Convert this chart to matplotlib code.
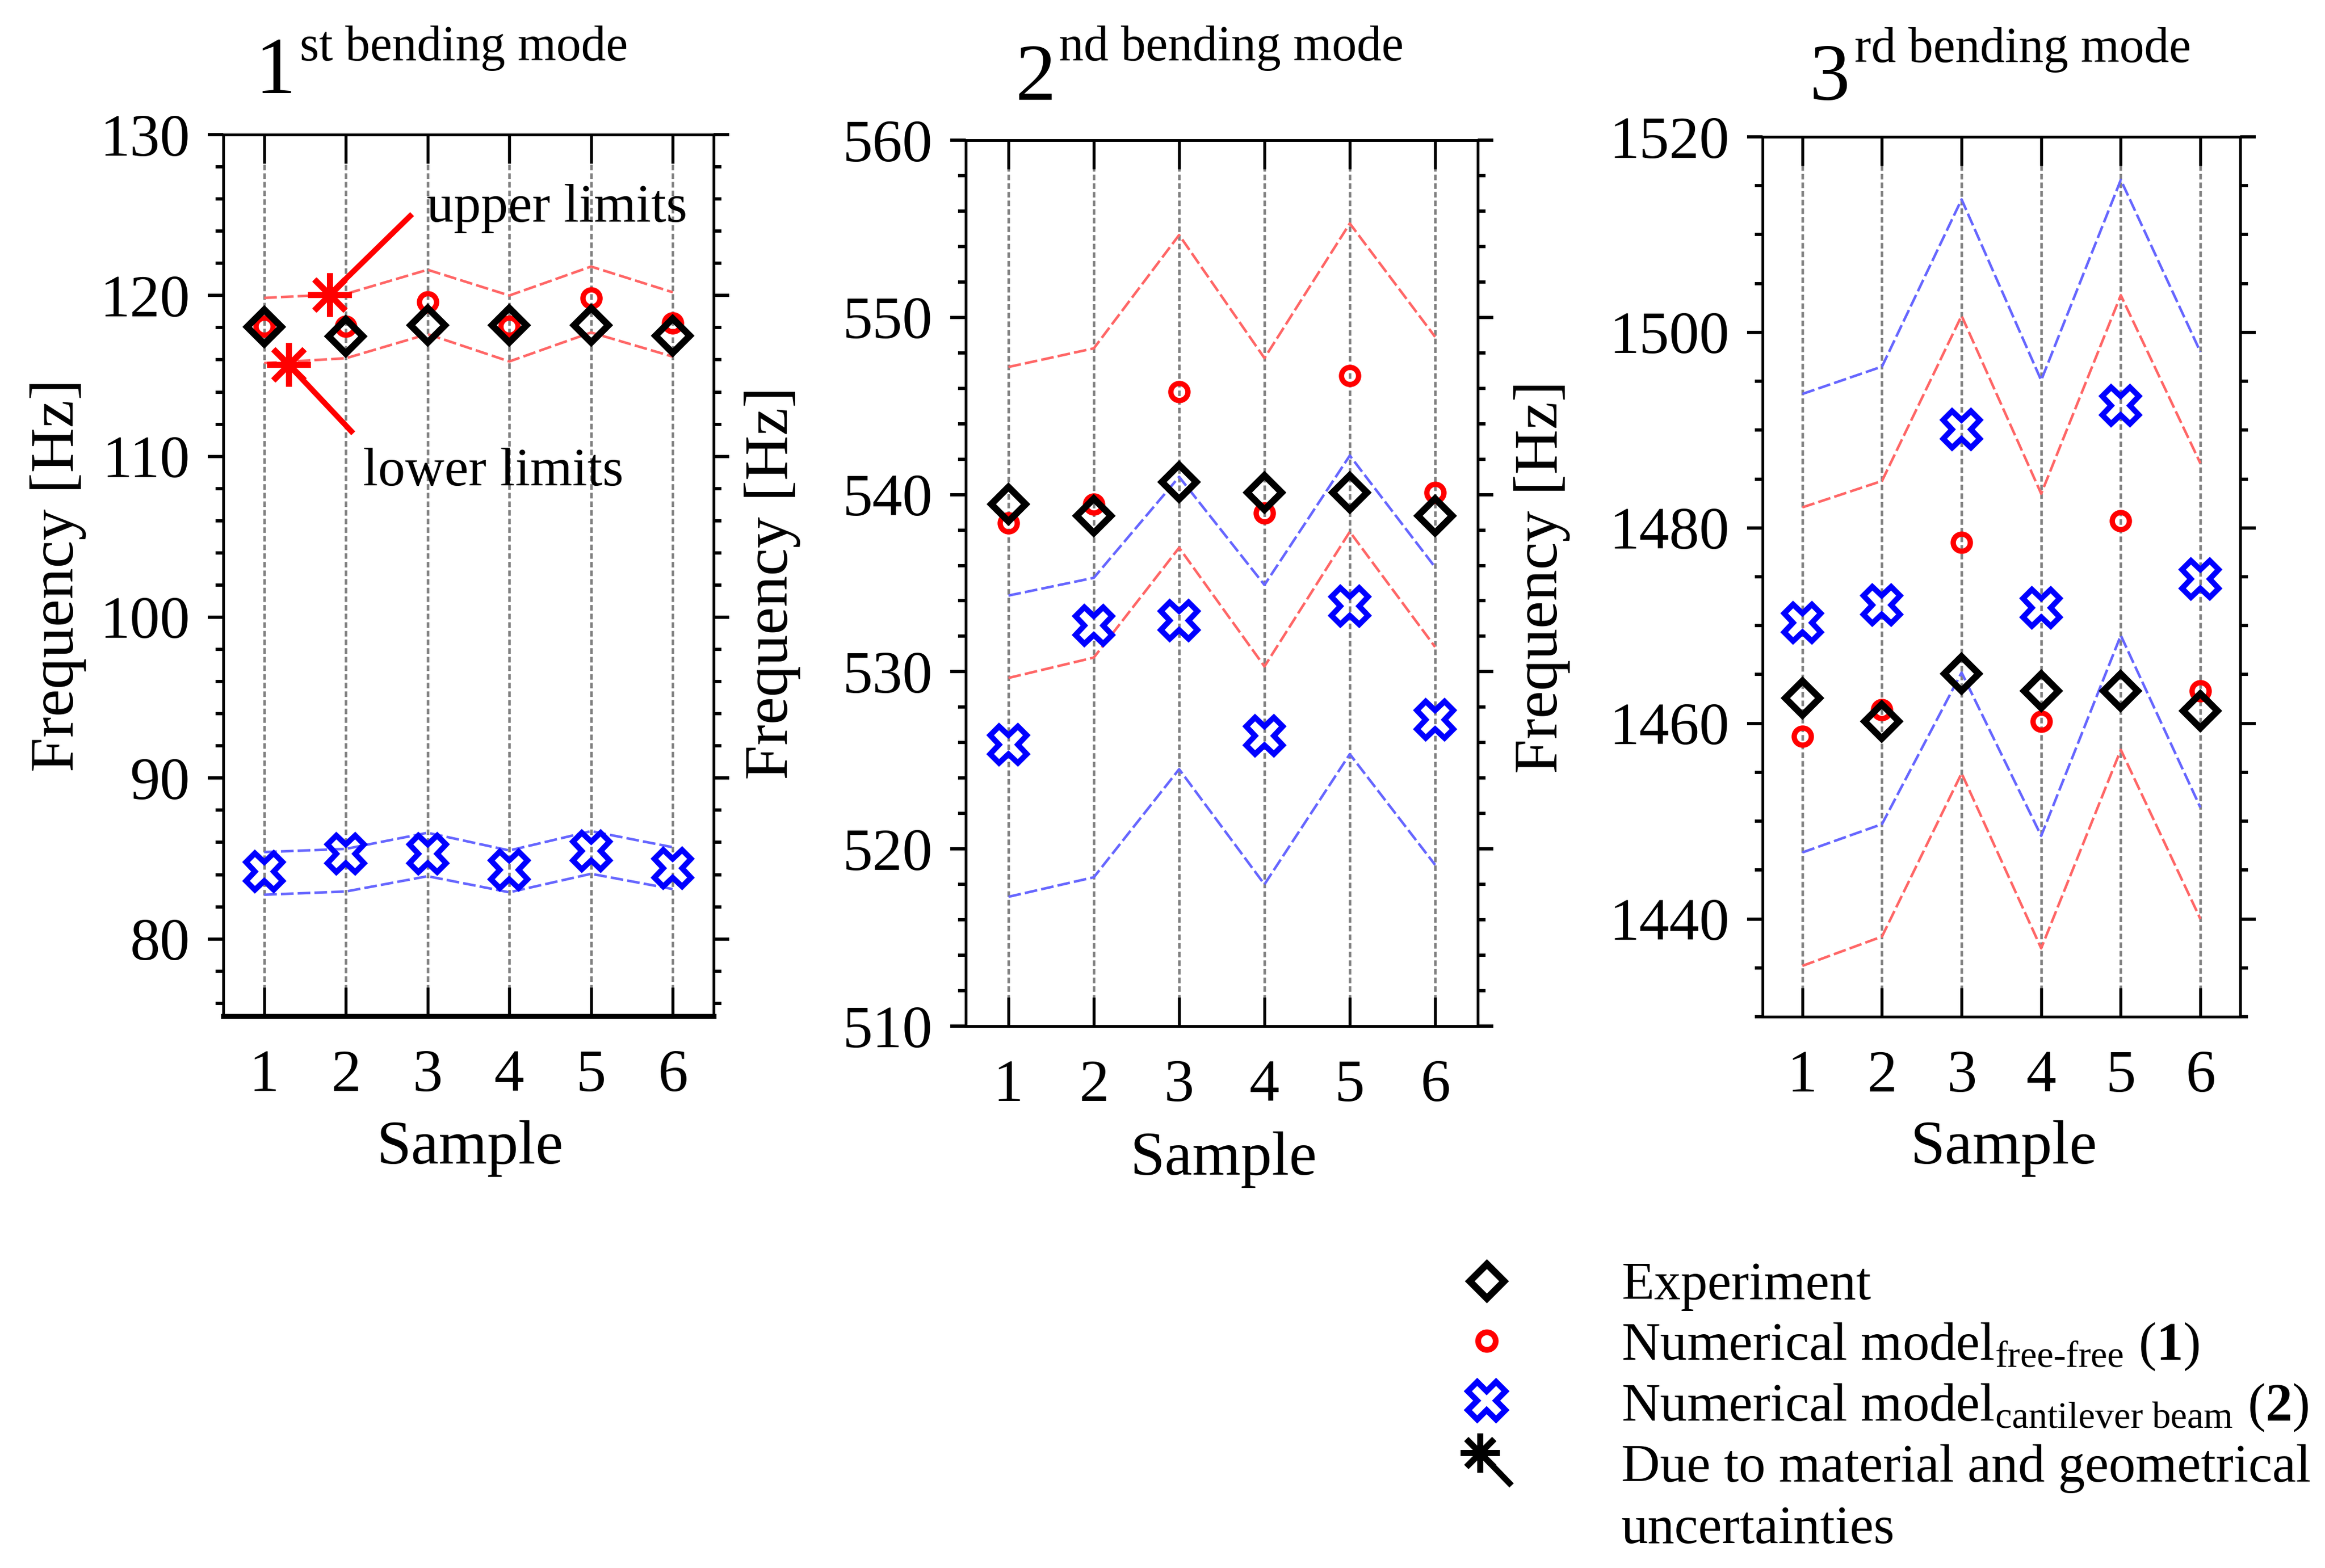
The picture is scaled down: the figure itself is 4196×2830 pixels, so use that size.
import matplotlib
matplotlib.use("Agg")
import matplotlib.pyplot as plt
from matplotlib.ticker import MultipleLocator
import numpy as np

plt.rcParams['font.family'] = ['Liberation Serif', 'DejaVu Serif']
plt.rcParams['mathtext.fontset'] = 'custom'
plt.rcParams['mathtext.rm'] = 'Liberation Serif'
plt.rcParams['mathtext.it'] = 'Liberation Serif:italic'
plt.rcParams['mathtext.bf'] = 'Liberation Serif:bold'

# ---------------- data ----------------
samples = [1, 2, 3, 4, 5, 6]
xtick_labels = ["1", "2", "3", "4", "5", "6"]

# 1st bending mode
m1_exp = [118.06, 117.48, 118.15, 118.15, 118.15, 117.50]
m1_ff = [118.10, 118.10, 119.60, 118.10, 119.85, 118.30]
m1_cb = [84.20, 85.30, 85.30, 84.30, 85.45, 84.40]
m1_ff_up = [119.85, 120.10, 121.60, 120.00, 121.80, 120.20]
m1_ff_lo = [115.80, 116.10, 117.60, 115.90, 117.70, 116.20]
m1_cb_up = [85.40, 85.60, 86.60, 85.50, 86.70, 85.70]
m1_cb_lo = [82.75, 82.95, 83.90, 82.90, 84.05, 83.10]

# 2nd bending mode
m2_exp = [539.47, 538.80, 540.70, 540.10, 540.10, 538.80]
m2_ff = [538.40, 539.47, 545.80, 538.95, 546.70, 540.10]
m2_cb = [525.90, 532.60, 532.90, 526.40, 533.70, 527.30]
m2_ff_up = [547.20, 548.25, 554.65, 547.70, 555.30, 548.90]
m2_ff_lo = [529.65, 530.80, 537.00, 530.30, 537.90, 531.40]
m2_cb_up = [534.30, 535.30, 541.00, 534.90, 542.20, 535.90]
m2_cb_lo = [517.30, 518.40, 524.50, 518.00, 525.35, 519.10]

# 3rd bending mode
m3_exp = [1462.6, 1460.2, 1465.1, 1463.3, 1463.3, 1461.3]
m3_ff = [1458.7, 1461.4, 1478.5, 1460.2, 1480.7, 1463.3]
m3_cb = [1470.3, 1472.1, 1490.1, 1471.8, 1492.5, 1474.8]
m3_ff_up = [1482.1, 1484.8, 1501.7, 1483.5, 1503.8, 1486.6]
m3_ff_lo = [1435.2, 1438.2, 1454.9, 1437.0, 1457.3, 1440.0]
m3_cb_up = [1493.7, 1496.5, 1513.6, 1495.1, 1515.6, 1498.0]
m3_cb_lo = [1446.8, 1449.7, 1465.2, 1448.5, 1469.0, 1451.4]

ordinals = ["1", "2", "3"]
title_sups = ["st bending mode", "nd bending mode", "rd bending mode"]
xlabel = "Sample"
ylabel = "Frequency [Hz]"
legend_labels = [
    "Experiment",
    r"Numerical model$_{\mathrm{free\text{-}free}}$ ($\mathbf{1}$)",
    r"Numerical model$_{\mathrm{cantilever\ beam}}$ ($\mathbf{2}$)",
    "Due to material and geometrical",
    "uncertainties",
]
annot_labels = ["upper limits", "lower limits"]

# ---------------- style ----------------
W, H = 4196, 2830
DPI = 300
fig = plt.figure(figsize=(W / DPI, H / DPI), dpi=DPI)

RED_L = '#ff6666'
BLUE_L = '#6666ff'
RED = '#ff0000'
BLUE = '#0000ff'

axes_rects = [
    [0.09604, 0.35194, 0.21092, 0.56219],
    [0.41540, 0.34558, 0.22021, 0.56502],
    [0.75810, 0.35159, 0.20543, 0.56113],
]
ylims = [(75.2, 130), (510, 560), (1430, 1520)]
ymaj = [10, 10, 20]
ymin = [2, 2, 5]
ylab_x = [-0.279, -0.322, -0.403]
xlab_pos = [(0.503, -0.118), (0.503, -0.119), (0.505, -0.118)]
# (x of big numeral, baseline), (x of superscript, baseline) in axes fraction
title_main = [(0.064, 1.0471), (0.0974, 1.0459), (0.0986, 1.0424)]
title_sup = [(0.156, 1.0842), (0.1818, 1.0898), (0.1926, 1.0850)]

modes = [
    (m1_exp, m1_ff, m1_cb, m1_ff_up, m1_ff_lo, m1_cb_up, m1_cb_lo),
    (m2_exp, m2_ff, m2_cb, m2_ff_up, m2_ff_lo, m2_cb_up, m2_cb_lo),
    (m3_exp, m3_ff, m3_cb, m3_ff_up, m3_ff_lo, m3_cb_up, m3_cb_lo),
]

dash_style = (0, (5, 1.6))
axes = []
for i, (rect, data) in enumerate(zip(axes_rects, modes)):
    exp, ff, cb, ffu, ffl, cbu, cbl = data
    ax = fig.add_axes(rect)
    axes.append(ax)
    ax.set_xlim(0.5, 6.5)
    ax.set_ylim(*ylims[i])

    ax.plot(samples, ffu, color=RED_L, lw=1.1, ls=dash_style, zorder=2)
    ax.plot(samples, ffl, color=RED_L, lw=1.1, ls=dash_style, zorder=2)
    ax.plot(samples, cbu, color=BLUE_L, lw=1.1, ls=dash_style, zorder=2)
    ax.plot(samples, cbl, color=BLUE_L, lw=1.1, ls=dash_style, zorder=2)

    ax.plot(samples, cb, ls='none', marker='X', ms=16, mfc='none', mec=BLUE,
            mew=2.4, zorder=3)
    ax.plot(samples, ff, ls='none', marker='o', ms=7.4, mfc='none', mec=RED,
            mew=2.3, zorder=4)
    ax.plot(samples, exp, ls='none', marker='D', ms=10.4, mfc='none', mec='black',
            mew=2.9, zorder=5)

    ax.set_xticks(samples)
    ax.set_xticklabels(xtick_labels)
    ax.yaxis.set_major_locator(MultipleLocator(ymaj[i]))
    ax.yaxis.set_minor_locator(MultipleLocator(ymin[i]))
    ax.grid(axis='x', color='#808080', lw=1.1, ls=(0, (2.2, 1.2)))
    ax.set_axisbelow(True)

    ax.tick_params(axis='x', which='major', direction='in', top=True, bottom=True,
                   length=12.5, width=1.3, pad=14.5, labelsize=26)
    ax.tick_params(axis='x', which='minor', bottom=False, top=False)
    ax.tick_params(axis='y', which='major', direction='out', left=True, right=True,
                   length=6.8, width=1.4, pad=7.5, labelsize=26)
    ax.tick_params(axis='y', which='minor', direction='out', left=True, right=True,
                   length=3.3, width=1.4)
    for s in ax.spines.values():
        s.set_linewidth(1.2)
    if i == 0:
        ax.spines['bottom'].set_linewidth(2.2)

    ax.set_ylabel(ylabel, fontsize=27)
    ax.yaxis.set_label_coords(ylab_x[i], 0.5)
    ax.set_xlabel(xlabel, fontsize=27)
    ax.xaxis.set_label_coords(*xlab_pos[i])

    ax.text(*title_main[i], ordinals[i], transform=ax.transAxes, ha='left',
            va='baseline', fontsize=35)
    ax.text(*title_sup[i], title_sups[i], transform=ax.transAxes, ha='left',
            va='baseline', fontsize=21.5)

# ---------------- annotation in 1st panel ----------------
ax1 = axes[0]
x_up, x_lo = 1.80, 1.30
y_up = np.interp(x_up, samples, m1_ff_up)
y_lo = np.interp(x_lo, samples, m1_ff_lo) - 0.2
ax1.plot([x_up, 2.81], [y_up, 125.06], color=RED, lw=2.4, zorder=6,
         solid_capstyle='butt')
ax1.plot([x_lo, 2.09], [y_lo, 111.43], color=RED, lw=2.4, zorder=6,
         solid_capstyle='butt')
ax1.plot([x_up, x_lo], [y_up, y_lo], ls='none', marker=(8, 2, 0), ms=19,
         mec=RED, mew=2.6, zorder=7)
ax1.text(2.99, 124.6, annot_labels[0], fontsize=23.5, va='baseline', ha='left')
ax1.text(2.21, 108.2, annot_labels[1], fontsize=23.5, va='baseline', ha='left')

# ---------------- legend (drawn in pixel coordinates) ----------------
lax = fig.add_axes([0, 0, 1, 1], zorder=-5)
lax.set_xlim(0, W)
lax.set_ylim(H, 0)
lax.set_axis_off()
mx = 2683
tx = 2926
lax.plot([mx], [2312], ls='none', marker='D', ms=10.4, mfc='none', mec='black', mew=3.0)
lax.plot([mx], [2420], ls='none', marker='o', ms=7.6, mfc='none', mec=RED, mew=2.5)
lax.plot([mx], [2528], ls='none', marker='X', ms=16.5, mfc='none', mec=BLUE, mew=2.5)
lax.plot([2671, 2728], [2622, 2681], color='black', lw=2.6, solid_capstyle='butt')
lax.plot([2671], [2622], ls='none', marker=(8, 2, 0), ms=17, mec='black', mew=2.6)
baselines = [2345, 2454, 2564, 2674, 2785]
for lab, yb in zip(legend_labels, baselines):
    lax.text(tx, yb, lab, fontsize=23.2, ha='left', va='baseline')

fig.savefig("out.png", dpi=DPI)
